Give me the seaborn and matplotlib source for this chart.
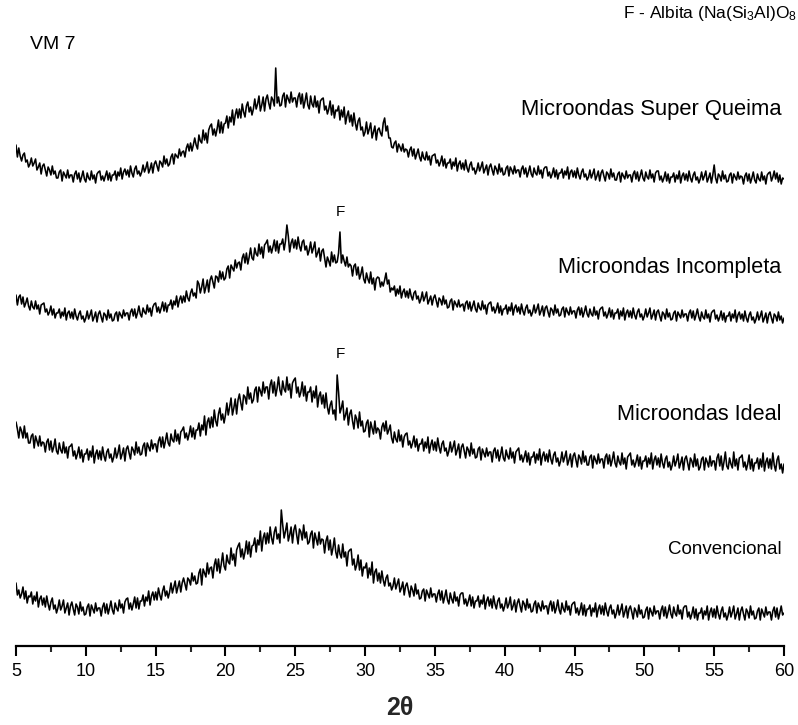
import numpy as np
import pandas as pd
import matplotlib
matplotlib.use("Agg")
import matplotlib.pyplot as plt
import seaborn as sns

# 2-theta scan positions (degrees), 0.1 deg step
two_theta = np.round(np.arange(5.0, 60.0001, 0.1), 1)

# Intensities (a.u.); one row per degree (x.0 ... x.9)
super_queima = [
    45, 33, 42, 34, 29, 35, 37, 28, 30, 23,   # 5
    26, 32, 24, 27, 31, 20, 23, 27, 16, 24,
    26, 20, 14, 23, 20, 15, 24, 16, 19, 12,
    12, 18, 20, 9, 18, 15, 12, 20, 12, 15,
    15, 8, 16, 19, 11, 17, 8, 13, 19, 11,
    8, 17, 12, 10, 19, 11, 15, 7, 16, 18,     # 10
    19, 10, 14, 9, 14, 19, 10, 17, 9, 15,
    15, 19, 10, 18, 14, 22, 11, 18, 21, 15,
    20, 13, 24, 17, 13, 21, 24, 16, 19, 14,
    18, 25, 18, 22, 28, 17, 21, 27, 17, 26,
    29, 24, 19, 29, 27, 23, 34, 26, 31, 24,   # 15
    26, 33, 36, 26, 36, 34, 32, 41, 34, 38,
    39, 33, 42, 46, 39, 47, 39, 45, 52, 45,
    41, 55, 49, 47, 60, 50, 57, 47, 60, 64,
    66, 55, 61, 54, 61, 70, 57, 68, 57, 66,
    67, 74, 62, 73, 68, 80, 65, 75, 81, 72,   # 20
    81, 72, 86, 78, 73, 84, 88, 78, 83, 75,
    81, 91, 81, 86, 94, 79, 85, 93, 79, 91,
    95, 87, 81, 93, 90, 84, 122, 87, 93, 84,
    85, 94, 97, 83, 95, 91, 87, 98, 88, 92,
    92, 83, 93, 97, 86, 96, 82, 89, 97, 85,   # 25
    81, 94, 86, 83, 94, 83, 89, 77, 89, 91,
    92, 80, 84, 76, 81, 89, 75, 85, 72, 80,
    79, 84, 70, 80, 73, 83, 66, 74, 79, 68,
    75, 64, 77, 67, 60, 69, 72, 60, 63, 54,
    58, 68, 56, 61, 67, 52, 58, 64, 50, 60,   # 30
    62, 57, 54, 67, 72, 59, 64, 52, 52, 43,
    42, 47, 49, 38, 46, 43, 39, 46, 38, 41,
    40, 33, 40, 43, 34, 41, 31, 36, 41, 33,
    29, 38, 32, 30, 38, 30, 34, 25, 34, 35,
    36, 27, 30, 24, 28, 34, 24, 31, 22, 27,   # 35
    27, 31, 21, 28, 24, 32, 19, 26, 29, 21,
    27, 20, 30, 22, 18, 25, 28, 20, 22, 16,
    20, 27, 19, 23, 28, 17, 21, 25, 15, 23,
    26, 20, 15, 24, 21, 16, 26, 18, 22, 15,
    16, 22, 24, 14, 23, 20, 16, 24, 17, 20,   # 40
    20, 13, 21, 24, 16, 22, 13, 18, 24, 16,
    13, 22, 17, 15, 24, 16, 20, 12, 21, 23,
    23, 14, 18, 12, 16, 22, 13, 20, 11, 17,
    17, 21, 12, 19, 15, 23, 11, 18, 20, 13,
    19, 12, 22, 15, 11, 18, 21, 13, 16, 10,   # 45
    13, 20, 12, 16, 21, 10, 14, 19, 9, 17,
    20, 14, 9, 18, 16, 11, 21, 13, 17, 10,
    10, 16, 18, 8, 17, 14, 11, 19, 12, 15,
    15, 8, 16, 19, 11, 18, 9, 14, 20, 12,
    9, 18, 13, 11, 20, 12, 16, 8, 17, 19,     # 50
    19, 10, 14, 8, 12, 18, 9, 16, 7, 13,
    13, 17, 8, 15, 11, 19, 7, 14, 17, 10,
    16, 9, 19, 12, 8, 15, 18, 10, 13, 7,
    11, 18, 10, 14, 19, 8, 12, 17, 7, 15,
    25, 12, 7, 16, 14, 9, 19, 11, 15, 8,      # 55
    9, 15, 17, 7, 16, 13, 10, 18, 11, 14,
    13, 6, 14, 17, 9, 16, 7, 12, 18, 10,
    7, 16, 11, 9, 18, 10, 14, 6, 15, 17,
    18, 9, 13, 19, 11, 17, 8, 15, 6, 12,
    11]
incompleta = [
    30, 20, 28, 30, 21, 28, 18, 22, 27, 19,   # 5
    15, 24, 18, 16, 24, 16, 20, 11, 20, 21,
    22, 13, 16, 10, 13, 19, 10, 16, 7, 12,
    12, 16, 7, 13, 9, 17, 5, 12, 14, 7,
    13, 6, 16, 9, 5, 11, 14, 6, 9, 3,
    7, 14, 6, 10, 15, 4, 8, 13, 3, 11,        # 10
    14, 8, 3, 12, 10, 5, 15, 7, 11, 4,
    5, 11, 13, 4, 13, 10, 7, 15, 9, 12,
    12, 5, 13, 16, 9, 16, 7, 12, 19, 11,
    8, 17, 13, 11, 20, 13, 17, 9, 18, 21,
    22, 13, 18, 12, 17, 23, 14, 22, 13, 20,   # 15
    20, 25, 16, 24, 20, 29, 18, 25, 29, 22,
    29, 23, 34, 27, 24, 32, 36, 29, 32, 27,
    44, 41, 32, 38, 46, 32, 38, 45, 33, 45,
    49, 43, 37, 49, 48, 43, 54, 46, 53, 45,
    47, 56, 59, 47, 60, 57, 54, 65, 57, 62,   # 20
    63, 55, 67, 71, 62, 72, 61, 68, 77, 67,
    65, 77, 71, 69, 81, 71, 78, 67, 80, 82,
    85, 73, 79, 72, 78, 85, 74, 84, 72, 81,
    81, 86, 75, 84, 100, 89, 73, 82, 86, 77,
    85, 76, 88, 79, 74, 83, 85, 75, 79, 70,   # 25
    75, 83, 72, 77, 83, 68, 72, 77, 64, 74,
    76, 67, 58, 68, 64, 59, 73, 63, 70, 62,
    63, 72, 93, 62, 70, 64, 59, 68, 58, 61,
    59, 49, 59, 61, 50, 58, 46, 51, 58, 46,
    42, 52, 46, 42, 53, 41, 47, 35, 46, 48,   # 30
    47, 38, 43, 39, 45, 52, 41, 45, 33, 37,
    35, 39, 29, 36, 31, 39, 27, 33, 36, 28,
    34, 27, 36, 29, 25, 32, 34, 26, 29, 22,
    26, 33, 24, 28, 33, 21, 25, 29, 20, 27,
    30, 24, 18, 27, 25, 20, 29, 21, 25, 17,   # 35
    18, 24, 26, 15, 24, 21, 18, 25, 18, 20,
    21, 14, 22, 24, 16, 23, 14, 19, 24, 16,
    13, 22, 17, 15, 24, 16, 20, 11, 20, 22,
    23, 14, 18, 12, 16, 22, 12, 19, 10, 16,
    16, 20, 11, 18, 14, 22, 10, 17, 20, 13,   # 40
    18, 11, 21, 14, 10, 17, 20, 12, 15, 9,
    13, 20, 12, 16, 21, 10, 14, 19, 9, 17,
    19, 13, 8, 17, 15, 10, 20, 12, 16, 9,
    10, 16, 18, 8, 17, 13, 10, 18, 11, 14,
    14, 7, 15, 18, 10, 17, 8, 13, 19, 11,     # 45
    8, 16, 11, 9, 18, 10, 14, 6, 15, 17,
    18, 9, 13, 7, 11, 17, 8, 15, 6, 12,
    12, 16, 6, 14, 9, 17, 5, 12, 15, 8,
    14, 7, 17, 10, 6, 13, 16, 8, 11, 5,
    9, 16, 8, 12, 17, 6, 10, 15, 5, 13,       # 50
    15, 9, 4, 13, 11, 6, 16, 8, 12, 5,
    6, 12, 14, 4, 13, 10, 7, 15, 8, 11,
    11, 4, 12, 15, 7, 14, 5, 10, 16, 8,
    4, 13, 8, 6, 15, 7, 11, 3, 12, 14,
    15, 6, 10, 4, 8, 14, 5, 12, 3, 9,         # 55
    9, 13, 4, 11, 7, 15, 3, 10, 13, 6,
    11, 4, 14, 7, 3, 10, 13, 5, 8, 2,
    6, 13, 5, 9, 14, 3, 7, 12, 2, 10,
    13, 7, 2, 11, 9, 4, 13, 5, 9, 2,
    7]
ideal = [
    48, 41, 32, 43, 39, 32, 44, 32, 37, 27,   # 5
    27, 34, 36, 22, 34, 29, 24, 34, 24, 28,
    27, 18, 28, 31, 20, 29, 18, 23, 31, 19,
    16, 27, 20, 17, 28, 17, 23, 12, 23, 24,
    26, 14, 19, 11, 16, 23, 12, 20, 8, 16,
    16, 21, 10, 19, 13, 24, 7, 16, 20, 11,    # 10
    19, 10, 23, 14, 9, 18, 21, 12, 16, 8,
    13, 22, 12, 17, 25, 11, 16, 22, 9, 21,
    24, 17, 11, 23, 20, 15, 28, 17, 23, 15,
    16, 24, 27, 14, 27, 23, 19, 30, 21, 26,
    26, 18, 29, 33, 23, 33, 22, 29, 37, 27,   # 15
    24, 36, 30, 28, 40, 29, 36, 26, 38, 40,
    43, 32, 37, 30, 36, 44, 33, 42, 31, 40,
    40, 47, 34, 45, 40, 54, 35, 48, 52, 42,
    53, 43, 60, 49, 44, 56, 62, 50, 56, 47,
    55, 67, 55, 63, 72, 55, 62, 71, 56, 70,   # 20
    76, 67, 60, 75, 73, 66, 83, 71, 77, 67,
    70, 80, 83, 68, 83, 79, 74, 88, 77, 83,
    83, 71, 85, 90, 77, 88, 74, 82, 93, 80,
    75, 89, 81, 78, 93, 80, 86, 72, 87, 90,
    92, 77, 83, 73, 78, 88, 74, 84, 69, 78,   # 25
    78, 83, 68, 79, 72, 84, 63, 74, 78, 66,
    75, 62, 77, 63, 56, 65, 69, 56, 60, 50,
    95, 78, 57, 62, 69, 50, 55, 62, 45, 56,
    60, 49, 41, 55, 51, 42, 58, 44, 49, 38,
    39, 47, 50, 33, 48, 42, 36, 49, 37, 42,   # 30
    40, 31, 43, 47, 39, 49, 36, 40, 45, 32,
    27, 38, 31, 28, 40, 29, 35, 23, 33, 36,
    37, 25, 29, 22, 27, 34, 23, 31, 19, 26,
    26, 31, 19, 28, 22, 33, 17, 25, 30, 20,
    28, 19, 32, 23, 17, 26, 29, 19, 22, 14,   # 35
    19, 28, 18, 23, 29, 15, 20, 26, 12, 23,
    26, 19, 12, 23, 20, 14, 27, 16, 21, 12,
    13, 21, 23, 10, 21, 17, 13, 22, 14, 18,
    18, 8, 19, 22, 12, 20, 9, 15, 23, 12,
    9, 20, 14, 11, 22, 12, 18, 7, 18, 20,     # 40
    22, 10, 15, 8, 13, 19, 8, 17, 5, 13,
    13, 18, 7, 16, 10, 21, 5, 14, 18, 9,
    16, 8, 20, 11, 6, 15, 18, 8, 12, 4,
    9, 18, 8, 13, 19, 5, 10, 16, 3, 14,
    17, 10, 3, 15, 12, 6, 19, 8, 14, 5,       # 45
    5, 13, 15, 2, 14, 10, 6, 16, 7, 11,
    11, 2, 13, 16, 6, 15, 4, 10, 18, 7,
    3, 14, 8, 5, 17, 6, 12, 1, 13, 15,
    17, 5, 10, 3, 8, 15, 4, 13, 1, 9,
    9, 14, 3, 12, 6, 17, 1, 10, 14, 5,       # 50
    12, 3, 16, 7, 2, 11, 14, 3, 8, 0,
    5, 14, 4, 9, 16, 2, 7, 13, 0, 11,
    14, 7, 0, 12, 9, 3, 16, 4, 11, 0,
    3, 11, 13, 0, 12, 8, 3, 14, 4, 9,
    9, 0, 12, 16, 4, 14, 0, 8, 18, 4,        # 55
    1, 12, 6, 2, 18, 4, 11, 0, 12, 13,
    15, 3, 8, 0, 6, 15, 1, 11, -1, 7,
    7, 12, 1, 11, 3, 17, -1, 8, 12, 2,
    11, 1, 17, 5, -1, 10, 14, 1, 6, -3,
    6]
convencional = [
    42, 30, 35, 27, 31, 38, 26, 34, 22, 29,   # 5
    28, 33, 21, 29, 24, 33, 18, 26, 29, 20,
    27, 18, 29, 21, 15, 23, 27, 16, 20, 12,
    17, 25, 15, 19, 25, 12, 17, 22, 10, 19,
    23, 16, 10, 21, 18, 11, 23, 14, 18, 10,
    11, 18, 21, 9, 20, 16, 12, 22, 14, 17,    # 10
    17, 9, 18, 22, 12, 21, 11, 17, 24, 15,
    11, 22, 17, 14, 25, 17, 21, 12, 23, 26,
    27, 16, 22, 15, 21, 28, 17, 27, 16, 24,
    24, 30, 19, 28, 24, 34, 20, 29, 33, 25,
    33, 25, 37, 30, 25, 34, 39, 29, 34, 27,   # 15
    33, 42, 32, 38, 44, 32, 38, 44, 33, 42,
    47, 41, 35, 47, 45, 40, 52, 44, 49, 41,
    42, 52, 56, 40, 56, 52, 48, 62, 51, 57,
    58, 47, 60, 66, 54, 66, 52, 61, 72, 59,
    55, 70, 63, 61, 77, 65, 71, 59, 75, 79,   # 20
    82, 68, 76, 66, 73, 84, 71, 83, 68, 79,
    80, 87, 73, 85, 80, 94, 74, 87, 92, 81,
    92, 82, 98, 87, 81, 93, 98, 86, 91, 82,
    115, 100, 87, 94, 102, 84, 90, 98, 82, 95,
    100, 90, 81, 96, 93, 85, 100, 87, 93, 81,  # 25
    83, 91, 94, 77, 92, 86, 80, 93, 81, 86,
    85, 72, 84, 89, 75, 85, 70, 77, 87, 73,
    67, 80, 71, 67, 81, 68, 73, 59, 73, 75,
    76, 60, 66, 55, 60, 70, 55, 65, 49, 58,
    57, 62, 47, 57, 50, 63, 42, 53, 56, 44,   # 30
    52, 42, 54, 45, 39, 47, 50, 39, 42, 35,
    39, 47, 36, 41, 46, 33, 37, 43, 30, 39,
    42, 35, 28, 39, 35, 29, 41, 31, 35, 26,
    27, 34, 36, 24, 35, 31, 27, 37, 28, 31,
    31, 23, 31, 35, 25, 34, 22, 28, 35, 25,   # 35
    21, 32, 26, 22, 33, 24, 28, 19, 30, 32,
    32, 21, 26, 19, 24, 30, 19, 28, 17, 24,
    24, 29, 18, 25, 21, 30, 16, 24, 28, 19,
    26, 17, 29, 21, 16, 24, 27, 17, 21, 14,
    19, 27, 17, 21, 28, 15, 19, 25, 13, 22,   # 40
    26, 19, 13, 24, 21, 15, 26, 17, 21, 13,
    14, 21, 24, 12, 22, 18, 14, 24, 16, 19,
    19, 11, 20, 24, 14, 23, 12, 17, 25, 15,
    11, 22, 16, 13, 24, 15, 19, 10, 20, 22,
    23, 12, 17, 10, 15, 22, 10, 20, 9, 16,    # 45
    16, 20, 9, 17, 13, 22, 8, 16, 20, 11,
    19, 10, 22, 14, 9, 17, 20, 11, 15, 7,
    12, 20, 10, 15, 21, 8, 13, 19, 7, 16,
    19, 13, 6, 17, 14, 8, 20, 11, 15, 7,
    8, 15, 18, 6, 17, 13, 9, 19, 11, 14,      # 50
    14, 6, 15, 19, 9, 18, 7, 13, 20, 11,
    7, 18, 12, 9, 20, 11, 15, 6, 17, 19,
    19, 8, 13, 6, 11, 18, 7, 16, 5, 12,
    12, 17, 6, 14, 10, 19, 5, 13, 17, 8,
    16, 7, 19, 11, 6, 14, 18, 8, 12, 5,       # 55
    10, 18, 8, 13, 19, 6, 11, 17, 5, 14,
    18, 11, 5, 16, 13, 7, 19, 10, 14, 6,
    7, 14, 17, 5, 16, 12, 8, 18, 10, 13,
    13, 5, 14, 18, 8, 17, 6, 12, 19, 10,
    12]

sample_names = ["Convencional", "Microondas Ideal", "Microondas Incompleta",
                "Microondas Super Queima"]
sample_values = [convencional, ideal, incompleta, super_queima]
vertical_offsets = [21, 176, 321, 456]
label_heights = [96, 231, 378, 536]
label_sizes = [13.5, 15.6, 15.6, 15.8]
f_peak_label_heights = [292, 434]  # Ideal, Incompleta
f_peak_position = 28.2
x_ticks = [5, 10, 15, 20, 25, 30, 35, 40, 45, 50, 55, 60]

for v in sample_values:
    assert len(v) == len(two_theta), (len(v), len(two_theta))

rows = []
for name, vals, off in zip(sample_names, sample_values, vertical_offsets):
    for t, v in zip(two_theta, vals):
        rows.append({"2theta": t, "intensity": v + off, "sample": name})
df = pd.DataFrame(rows)

sns.set_theme(style="white")
plt.rcParams["font.family"] = ["Liberation Sans", "DejaVu Sans"]
plt.rcParams["mathtext.fontset"] = "custom"
plt.rcParams["mathtext.rm"] = "Liberation Sans"
plt.rcParams["mathtext.it"] = "Liberation Sans:italic"
plt.rcParams["mathtext.bf"] = "Liberation Sans:bold"

fig = plt.figure(figsize=(7.98, 7.25), dpi=100)
ax = fig.add_axes([16 / 798, 79 / 725, 768 / 798, 646 / 725])

for name in sample_names:
    sub = df[df["sample"] == name]
    sns.lineplot(data=sub, x="2theta", y="intensity", color="black",
                 linewidth=1.15, ax=ax, legend=False, estimator=None)

ax.set_xlim(5, 60)
ax.set_ylim(0, 646)
ax.set_xticks(x_ticks)
ax.set_xticks(np.arange(7.5, 60, 5), minor=True)
ax.set_xticklabels([str(t) for t in x_ticks], fontsize=13)
ax.tick_params(axis="x", which="major", direction="out", length=7, width=1.5,
               bottom=True, pad=5, colors="black")
ax.tick_params(axis="x", which="minor", direction="out", length=4, width=1.5,
               bottom=True)
ax.set_yticks([])
ax.set_ylabel("")
for s in ["left", "right", "top"]:
    ax.spines[s].set_visible(False)
ax.spines["bottom"].set_linewidth(1.6)
ax.spines["bottom"].set_color("black")
ax.set_xlabel("2θ", fontsize=18, fontweight="bold", labelpad=12)

for name, h, fs in zip(sample_names, label_heights, label_sizes):
    ax.text(59.8, h, name, ha="right", va="center", fontsize=fs, color="black")

for h in f_peak_label_heights:
    ax.text(f_peak_position, h, "F", ha="center", va="center", fontsize=11,
            color="black")

fig.text(30 / 798, 0.938, "VM 7", ha="left", va="center",
         fontsize=14, color="black")
fig.text(0.999, 0.981, r"F - Albita (Na(Si$_3$Al)O$_8$", ha="right", va="center",
         fontsize=12.5, color="black")

fig.savefig("out.png", dpi=100)
